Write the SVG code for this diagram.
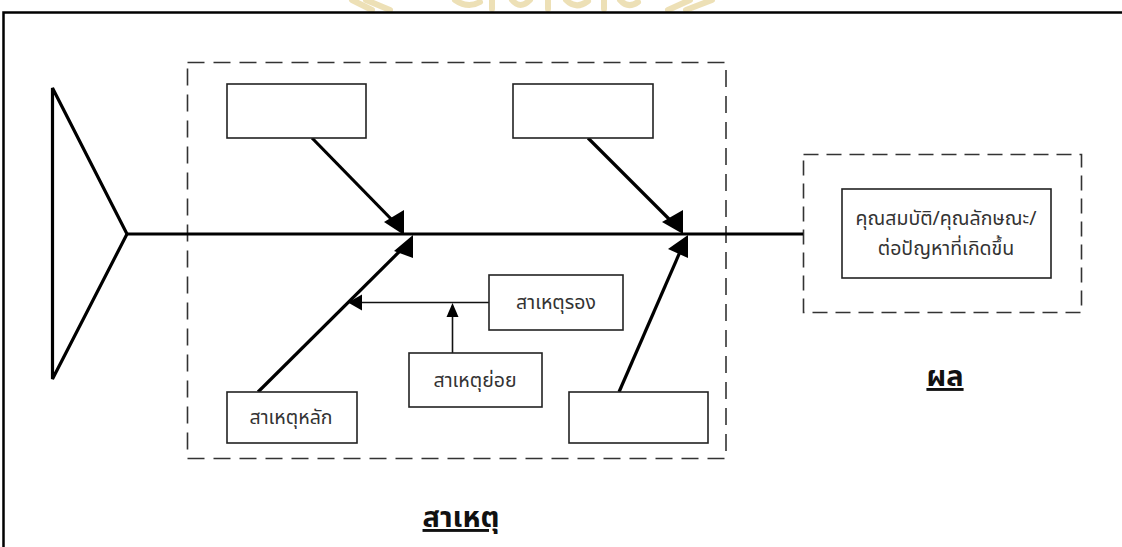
<svg xmlns="http://www.w3.org/2000/svg" width="1122" height="547" viewBox="0 0 1122 547">
  <style>
    .frame { fill: none; stroke: #000; stroke-width: 2.5; }
    .group { fill: none; stroke: #333; stroke-width: 1.6; stroke-dasharray: 17 9; }
    .group-r { fill: none; stroke: #333; stroke-width: 1.6; stroke-dasharray: 15 8; }
    .box { fill: #fff; stroke: #222; stroke-width: 1.6; }
    .bone { fill: none; stroke: #000; stroke-width: 3.2; }
    .sub { fill: none; stroke: #111; stroke-width: 1.6; }
    .tip { fill: #000; stroke: none; }
    .seal { fill: none; stroke: #e8d8a4; stroke-width: 6; stroke-linecap: round; opacity: 0.8; }
    .lbl { font-family: "Noto Sans Thai", "Tahoma", "DejaVu Sans", sans-serif; font-size: 19.5px; fill: #333; text-anchor: middle; }
    .title { font-family: "Noto Sans Thai", "Tahoma", "DejaVu Sans", sans-serif; font-size: 29px; font-weight: bold; fill: #111; text-anchor: middle; text-decoration: underline; }
  </style>

  <rect width="1122" height="547" fill="#fff"/>

  <!-- faint page seal along the top margin -->
  <g id="seal">
    <path class="seal" d="M352,0 L372,10 M366,0 L390,10"/>
    <path class="seal" d="M455,0 Q468,9 480,2 M492,0 V9 M512,0 Q520,10 530,0 M548,0 V9 M566,0 Q576,10 588,1 M604,0 V9 M620,0 Q628,9 638,2"/>
    <path class="seal" d="M690,0 L668,10 M712,0 L686,10"/>
  </g>

  <!-- page frame -->
  <path class="frame" d="M3.5,547 V12.5 H1122"/>

  <!-- dashed grouping areas -->
  <rect class="group" x="187.5" y="62.5" width="538.5" height="396"/>
  <rect class="group-r" x="803.5" y="154.5" width="278" height="158"/>

  <!-- spine, bones and arrowheads -->
  <g id="connectors">
    <path class="bone" d="M128,234 H803"/>
    <path class="bone" d="M312,138 L396,224"/>
    <polygon class="tip" points="404,210 404,235 384,222"/>
    <path class="bone" d="M588,138 L675,225"/>
    <polygon class="tip" points="683,210 683,234 662,222"/>
    <path class="bone" d="M258,392 L406,245"/>
    <polygon class="tip" points="413,235 413,258 394,251"/>
    <path class="bone" d="M619,392 L683,245"/>
    <polygon class="tip" points="688,235 688,258 668,249"/>
    <path class="sub" d="M489,302.5 H360"/>
    <polygon class="tip" points="348,302.5 362,294.5 362,310.5"/>
    <path class="sub" d="M452.5,353 V315"/>
    <polygon class="tip" points="452.5,303 446.5,317 458.5,317"/>
  </g>

  <!-- fish head -->
  <g id="head-shape">
    <path class="bone" d="M52.5,88 L127,234 L52.5,379 Z"/>
  </g>

  <!-- cause boxes -->
  <g id="cause-top-left">
    <rect class="box" x="227" y="84" width="139" height="54"/>
  </g>
  <g id="cause-top-right">
    <rect class="box" x="513" y="84" width="140" height="54"/>
  </g>
  <g id="cause-main">
    <rect class="box" x="227" y="392" width="130" height="51"/>
    <text class="lbl" x="291" y="424">สาเหตุหลัก</text>
  </g>
  <g id="cause-secondary">
    <rect class="box" x="489" y="275" width="134" height="55"/>
    <text class="lbl" x="556" y="309">สาเหตุรอง</text>
  </g>
  <g id="cause-minor">
    <rect class="box" x="409" y="353" width="133" height="54"/>
    <text class="lbl" x="475" y="387">สาเหตุย่อย</text>
  </g>
  <g id="cause-bottom-right">
    <rect class="box" x="569" y="392" width="139" height="51"/>
  </g>

  <!-- effect -->
  <g id="effect">
    <rect class="box" x="842" y="189" width="209" height="89"/>
    <text class="lbl" x="946" y="225">คุณสมบัติ/คุณลักษณะ/</text>
    <text class="lbl" x="946" y="255">ต่อปัญหาที่เกิดขึ้น</text>
  </g>

  <!-- section titles -->
  <text class="title" x="945" y="386">ผล</text>
  <text class="title" x="461" y="527">สาเหตุ</text>
</svg>
